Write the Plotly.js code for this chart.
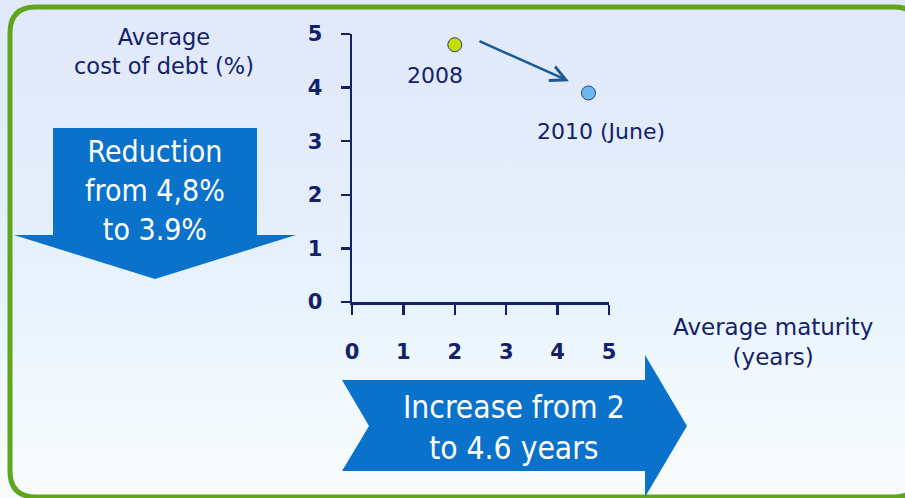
<!DOCTYPE html>
<html>
<head>
<meta charset="utf-8">
<script src="https://cdn.plot.ly/plotly-3.0.1.min.js"></script>
<style>
  html, body { margin: 0; padding: 0; }
  body {
    width: 905px; height: 498px; overflow: hidden;
    background: linear-gradient(180deg, #e1e8fa 0%, #e4eefb 40%, #e8f4fd 62%, #f2f9fd 80%, #f8fbfb 100%);
  }
  #chart { width: 905px; height: 498px; }
</style>
</head>
<body>
<div id="chart"></div>
<script>
// ---- data ----
const pointLabels = ['2008', '2010 (June)'];
const maturityYears = [2, 4.6];
const costOfDebt = [4.8, 3.9];
const pointColors = ['#c5dc00', '#6cb9ed'];
const xTickValues = [0, 1, 2, 3, 4, 5];
const yTickValues = [0, 1, 2, 3, 4, 5];
const yTitle = 'Average<br>cost of debt (%)';
const xTitle = 'Average maturity<br>(years)';
const costNote = 'Reduction<br>from 4,8%<br>to 3.9%';
const maturityNote = 'Increase from 2<br>to 4.6 years';

// ---- layout geometry (pixels) ----
const W = 905, H = 498;
const L = 352, R = 609, T = 34, B = 302;
const px = x => (x - L) / (R - L);
const py = y => (B - y) / (B - T);
function path(pts) {
  return 'M' + pts.map(p => px(p[0]).toFixed(5) + ',' + py(p[1]).toFixed(5)).join(' L') + ' Z';
}

const navy = '#13216b';
const blue = '#0a72cb';
const green = '#5fa61c';

function roundRect(x0, y0, x1, y1, r) {
  const P = (x, y) => px(x).toFixed(5) + ',' + py(y).toFixed(5);
  return 'M' + P(x0 + r, y0) + ' L' + P(x1 - r, y0) + ' Q' + P(x1, y0) + ' ' + P(x1, y0 + r) +
    ' L' + P(x1, y1 - r) + ' Q' + P(x1, y1) + ' ' + P(x1 - r, y1) +
    ' L' + P(x0 + r, y1) + ' Q' + P(x0, y1) + ' ' + P(x0, y1 - r) +
    ' L' + P(x0, y0 + r) + ' Q' + P(x0, y0) + ' ' + P(x0 + r, y0) + ' Z';
}

const shapes = [
  { type: 'path', xref: 'paper', yref: 'paper', layer: 'below',
    path: roundRect(10, 7, 920, 497, 26),
    line: { color: green, width: 5 }, fillcolor: 'rgba(0,0,0,0)' },
  { type: 'path', xref: 'paper', yref: 'paper', layer: 'below',
    path: path([[53,128],[257,128],[257,235],[296,235],[155,279],[14,235],[53,235]]),
    line: { width: 0 }, fillcolor: blue },
  { type: 'path', xref: 'paper', yref: 'paper', layer: 'below',
    path: path([[342,380],[645,380],[645,355],[687,426],[645,497],[645,471],[342,471],[369,426]]),
    line: { width: 0 }, fillcolor: blue }
];

const sans = '"DejaVu Sans", sans-serif';
const condensed = '"DejaVu Sans Condensed", "DejaVu Sans", sans-serif';

const annotations = [
  { x: maturityYears[0], y: costOfDebt[0], xref: 'x', yref: 'y', text: pointLabels[0],
    showarrow: false, xshift: -20, yshift: -31,
    font: { family: sans, size: 22, color: navy } },
  { x: maturityYears[1], y: costOfDebt[1], xref: 'x', yref: 'y', text: pointLabels[1],
    showarrow: false, xshift: 13, yshift: -39,
    font: { family: sans, size: 22, color: navy } },
  { x: 4.22, y: 4.12, ax: 2.45, ay: 4.88, xref: 'x', yref: 'y', axref: 'x', ayref: 'y',
    text: '', showarrow: true, arrowhead: 5, arrowsize: 1.2, arrowwidth: 2.5, arrowcolor: '#1b5a9a' },
  { x: px(164), y: py(52), xref: 'paper', yref: 'paper', text: yTitle, showarrow: false,
    xanchor: 'center', yanchor: 'middle',
    font: { family: sans, size: 22.5, color: navy } },
  { x: px(773), y: py(342), xref: 'paper', yref: 'paper', text: xTitle, showarrow: false,
    xanchor: 'center', yanchor: 'middle',
    font: { family: sans, size: 23, color: navy } },
  { x: px(155), y: py(190), xref: 'paper', yref: 'paper', text: costNote, showarrow: false,
    xanchor: 'center', yanchor: 'middle', align: 'center',
    font: { family: condensed, size: 30, color: '#ffffff' } },
  { x: px(514), y: py(427), xref: 'paper', yref: 'paper', text: maturityNote, showarrow: false,
    xanchor: 'center', yanchor: 'middle', align: 'center',
    font: { family: condensed, size: 31.5, color: '#ffffff' } }
];

const traces = [{
  type: 'scatter', mode: 'markers',
  x: maturityYears, y: costOfDebt, text: pointLabels,
  marker: { size: 14, color: pointColors, line: { color: '#2b3f7c', width: 1 } },
  hoverinfo: 'text', cliponaxis: false
}];

const tickFont = { family: sans, size: 21, color: navy, weight: 'bold' };

const layout = {
  width: W, height: H,
  margin: { l: L, r: W - R, t: T, b: H - B, pad: 0 },
  paper_bgcolor: 'rgba(0,0,0,0)', plot_bgcolor: 'rgba(0,0,0,0)',
  showlegend: false,
  xaxis: {
    range: [0, 5], tickvals: xTickValues, ticktext: xTickValues.map(String),
    showline: true, linecolor: navy, linewidth: 2.5,
    ticks: 'outside', ticklen: 10, tickwidth: 2.5, tickcolor: navy,
    showgrid: false, zeroline: false, tickfont: tickFont, ticklabelstandoff: 19,
    fixedrange: true
  },
  yaxis: {
    range: [0, 5], tickvals: yTickValues, ticktext: yTickValues.map(String),
    showline: true, linecolor: navy, linewidth: 2.5,
    ticks: 'outside', ticklen: 9, tickwidth: 2.5, tickcolor: navy,
    showgrid: false, zeroline: false, tickfont: tickFont, ticklabelstandoff: 14,
    fixedrange: true
  },
  shapes: shapes,
  annotations: annotations
};

Plotly.newPlot('chart', traces, layout, { displayModeBar: false, staticPlot: true });
</script>
</body>
</html>
